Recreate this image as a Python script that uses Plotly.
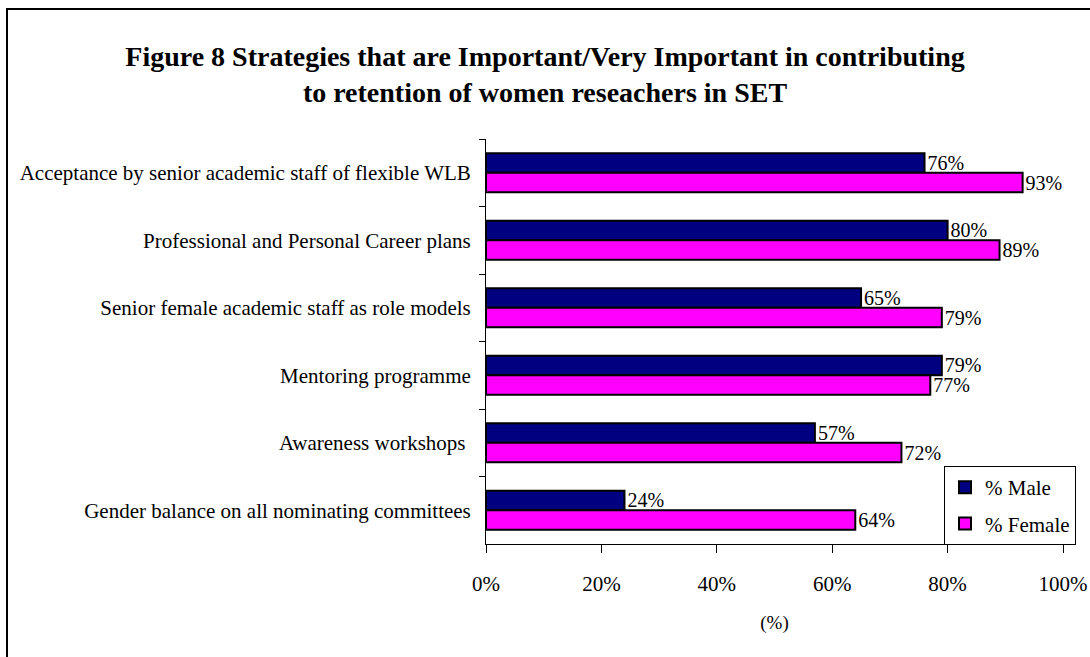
import plotly.graph_objects as go

categories = [
    "Acceptance by senior academic staff of flexible WLB",
    "Professional and Personal Career plans",
    "Senior female academic staff as role models",
    "Mentoring programme",
    "Awareness workshops ",
    "Gender balance on all nominating committees",
]
male = [76, 80, 65, 79, 57, 24]
female = [93, 89, 79, 77, 72, 64]
x_ticks = [0, 20, 40, 60, 80, 100]

FONT = "Liberation Serif, Times New Roman, serif"
W, H = 1090, 657
L, R, T, B = 486, 27, 139, 113
pw, ph = W - L - R, H - T - B

def px_to_paper_x(px):
    return (px - L) / pw

def px_to_paper_y(py):
    return (H - B - py) / ph

fig = go.Figure()
fig.add_trace(go.Bar(
    y=categories, x=male, name="% Male", orientation="h", legendgroup="m",
    marker=dict(color="#000080", line=dict(color="black", width=2)),
    text=[f"{v}%" for v in male], textposition="outside", constraintext="none",
    textfont=dict(family=FONT, size=20, color="black"), cliponaxis=False,
))
fig.add_trace(go.Bar(
    y=categories, x=female, name="% Female", orientation="h", legendgroup="f",
    marker=dict(color="#FF00FF", line=dict(color="black", width=2)),
    text=[f"{v}%" for v in female], textposition="outside", constraintext="none",
    textfont=dict(family=FONT, size=20, color="black"), cliponaxis=False,
))

fig.update_layout(
    width=W, height=H,
    margin=dict(l=L, r=R, t=T, b=B, autoexpand=False),
    paper_bgcolor="white", plot_bgcolor="white",
    barmode="group", bargap=0.42, bargroupgap=0,
    font=dict(family=FONT, size=21, color="black"),
    title=dict(
        text="<b>Figure 8 Strategies that are Important/Very Important in contributing<br>to retention of women reseachers in SET</b>",
        xref="container", yref="container", x=0.5, xanchor="center",
        y=1 - 66 / H, yanchor="middle",
        font=dict(family=FONT, size=28, color="black"),
    ),
    showlegend=True,
    legend=dict(
        x=px_to_paper_x(944), xanchor="left",
        y=px_to_paper_y(466), yanchor="top",
        bordercolor="black", borderwidth=1, bgcolor="white",
        font=dict(family=FONT, size=21, color="black"),
        tracegroupgap=6, traceorder="grouped",
    ),
)

fig.update_xaxes(
    range=[0, 100], tickvals=x_ticks, ticktext=[f"{v}%" for v in x_ticks],
    showline=True, linecolor="black", linewidth=1,
    ticks="outside", ticklen=8, tickcolor="black", tickwidth=1,
    showgrid=False, zeroline=False, automargin=False,
    tickfont=dict(family=FONT, size=21),
    ticklabelstandoff=13,
    title=dict(text="(%)", font=dict(family=FONT, size=19), standoff=20),
)
fig.update_yaxes(
    autorange="reversed", type="category",
    showline=True, linecolor="black", linewidth=1,
    ticks="outside", ticklen=6, tickcolor="black", tickwidth=1,
    tickson="boundaries", showgrid=False, automargin=False,
    tickfont=dict(family=FONT, size=21),
    ticklabelstandoff=10,
)

fig.add_shape(
    type="rect", xref="paper", yref="paper",
    x0=px_to_paper_x(7), x1=px_to_paper_x(1100),
    y0=px_to_paper_y(670), y1=px_to_paper_y(9),
    line=dict(color="black", width=2), fillcolor="rgba(0,0,0,0)", layer="below",
)

fig.write_html("out.html")
